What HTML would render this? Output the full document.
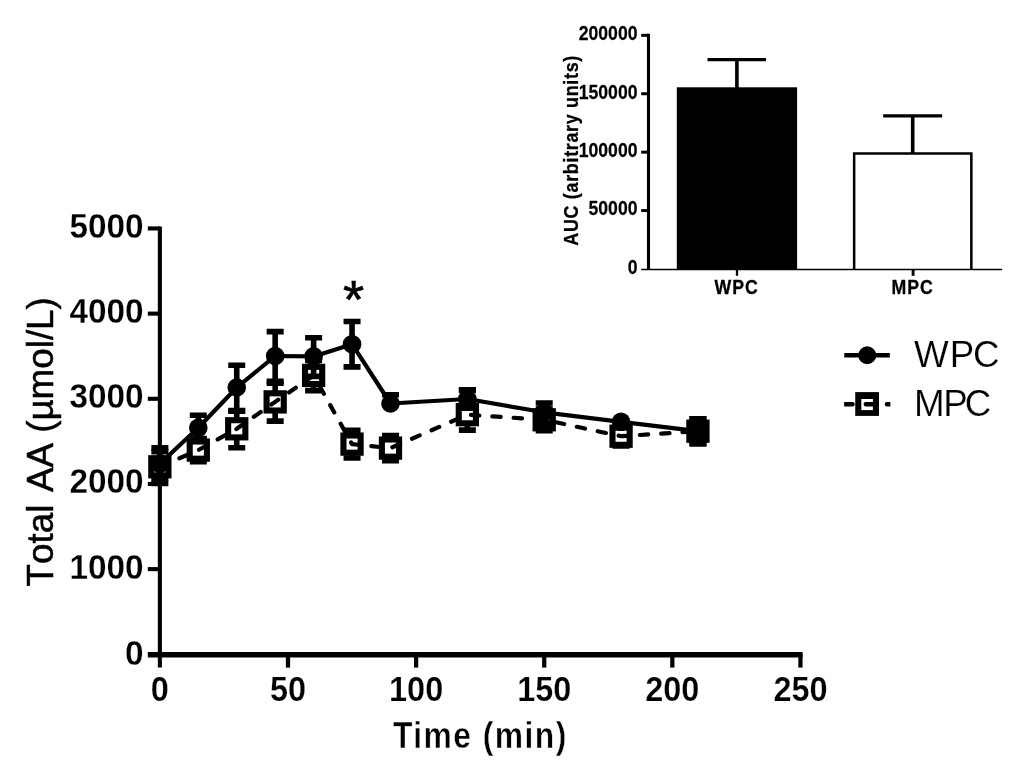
<!DOCTYPE html>
<html lang="en"><head><meta charset="utf-8"><title>Total AA over time: WPC vs MPC</title>
<style>html,body{margin:0;padding:0;background:#fff}body{width:1024px;height:770px;overflow:hidden}svg{display:block}text{font-family:"Liberation Sans",Arial,Helvetica,sans-serif;fill:#000}.b{font-weight:bold}</style></head><body>
<svg width="1024" height="770" viewBox="0 0 1024 770">
<rect width="1024" height="770" fill="#fff"/>
<g id="mpc">
<path d="M159.87 451.60V483.40M151.37 451.60H168.37M151.37 483.40H168.37" stroke="#000" stroke-width="5.60" fill="none"/>
<path d="M198.30 438.45V461.75M189.80 438.45H206.80M189.80 461.75H206.80" stroke="#000" stroke-width="5.60" fill="none"/>
<path d="M236.74 411.20V447.80M228.24 411.20H245.24M228.24 447.80H245.24" stroke="#000" stroke-width="5.60" fill="none"/>
<path d="M275.17 383.30V421.10M266.67 383.30H283.67M266.67 421.10H283.67" stroke="#000" stroke-width="5.60" fill="none"/>
<path d="M313.61 360.40V390.60M305.11 360.40H322.11M305.11 390.60H322.11" stroke="#000" stroke-width="5.60" fill="none"/>
<path d="M352.04 430.25V457.95M343.54 430.25H360.54M343.54 457.95H360.54" stroke="#000" stroke-width="5.60" fill="none"/>
<path d="M390.48 435.55V460.65M381.98 435.55H398.98M381.98 460.65H398.98" stroke="#000" stroke-width="5.60" fill="none"/>
<path d="M467.35 399.30V430.10M458.85 399.30H475.85M458.85 430.10H475.85" stroke="#000" stroke-width="5.60" fill="none"/>
<path d="M544.22 409.00V430.60M535.72 409.00H552.72M535.72 430.60H552.72" stroke="#000" stroke-width="5.60" fill="none"/>
<path d="M621.08 426.50V445.90M612.58 426.50H629.58M612.58 445.90H629.58" stroke="#000" stroke-width="5.60" fill="none"/>
<path d="M697.95 418.70V443.70M689.45 418.70H706.45M689.45 443.70H706.45" stroke="#000" stroke-width="5.60" fill="none"/>
<rect x="151.27" y="458.20" width="17.20" height="17.20" fill="#fff" stroke="#000" stroke-width="6.10"/>
<rect x="189.70" y="441.50" width="17.20" height="17.20" fill="#fff" stroke="#000" stroke-width="6.10"/>
<rect x="228.14" y="420.20" width="17.20" height="17.20" fill="#fff" stroke="#000" stroke-width="6.10"/>
<rect x="266.57" y="393.30" width="17.20" height="17.20" fill="#fff" stroke="#000" stroke-width="6.10"/>
<rect x="305.01" y="366.80" width="17.20" height="17.20" fill="#fff" stroke="#000" stroke-width="6.10"/>
<rect x="343.44" y="435.50" width="17.20" height="17.20" fill="#fff" stroke="#000" stroke-width="6.10"/>
<rect x="381.88" y="439.50" width="17.20" height="17.20" fill="#fff" stroke="#000" stroke-width="6.10"/>
<rect x="458.75" y="406.10" width="17.20" height="17.20" fill="#fff" stroke="#000" stroke-width="6.10"/>
<rect x="535.62" y="411.20" width="17.20" height="17.20" fill="#fff" stroke="#000" stroke-width="6.10"/>
<rect x="612.48" y="427.60" width="17.20" height="17.20" fill="#fff" stroke="#000" stroke-width="6.10"/>
<rect x="689.35" y="422.60" width="17.20" height="17.20" fill="#fff" stroke="#000" stroke-width="6.10"/>
<polyline points="159.87,466.80 198.30,450.10 236.74,428.80 275.17,401.90 313.61,375.40 352.04,444.10 390.48,448.10 467.35,414.70 544.22,419.80 621.08,436.20 697.95,431.20" fill="none" stroke="#000" stroke-width="4.20" stroke-linecap="round" stroke-linejoin="round" stroke-dasharray="8.35 13.0"/>
</g>
<g id="wpc">
<path d="M159.87 447.90V478.80M151.37 447.90H168.37M151.37 478.80H168.37" stroke="#000" stroke-width="5.60" fill="none"/>
<path d="M198.30 415.20V440.40M189.80 415.20H206.80M189.80 440.40H206.80" stroke="#000" stroke-width="5.60" fill="none"/>
<path d="M236.74 365.20V410.50M228.24 365.20H245.24M228.24 410.50H245.24" stroke="#000" stroke-width="5.60" fill="none"/>
<path d="M275.17 331.60V381.20M266.67 331.60H283.67M266.67 381.20H283.67" stroke="#000" stroke-width="5.60" fill="none"/>
<path d="M313.61 337.70V376.40M305.11 337.70H322.11M305.11 376.40H322.11" stroke="#000" stroke-width="5.60" fill="none"/>
<path d="M352.04 321.50V366.90M343.54 321.50H360.54M343.54 366.90H360.54" stroke="#000" stroke-width="5.60" fill="none"/>
<path d="M390.48 394.70V403.50M381.98 394.70H398.98" stroke="#000" stroke-width="5.60" fill="none"/>
<path d="M467.35 389.70V408.30M458.85 389.70H475.85M458.85 408.30H475.85" stroke="#000" stroke-width="5.60" fill="none"/>
<path d="M544.22 403.00V423.10M535.72 403.00H552.72M535.72 423.10H552.72" stroke="#000" stroke-width="5.60" fill="none"/>
<path d="M697.95 418.70V443.70M689.45 418.70H706.45M689.45 443.70H706.45" stroke="#000" stroke-width="5.60" fill="none"/>
<path d="M458.85 390.6H475.85" stroke="#000" stroke-width="5.60"/>
<polyline points="159.87,463.80 198.30,427.80 236.74,387.50 275.17,356.00 313.61,356.40 352.04,344.20 390.48,403.50 467.35,399.00 544.22,412.30 621.08,421.80 697.95,431.20" fill="none" stroke="#000" stroke-width="4.20" stroke-linejoin="round"/>
<circle cx="159.87" cy="463.80" r="9.30" fill="#000"/>
<circle cx="198.30" cy="427.80" r="9.30" fill="#000"/>
<circle cx="236.74" cy="387.50" r="9.30" fill="#000"/>
<circle cx="275.17" cy="356.00" r="9.30" fill="#000"/>
<circle cx="313.61" cy="356.40" r="9.30" fill="#000"/>
<circle cx="352.04" cy="344.20" r="9.30" fill="#000"/>
<circle cx="390.48" cy="403.50" r="9.30" fill="#000"/>
<circle cx="467.35" cy="399.00" r="9.30" fill="#000"/>
<circle cx="544.22" cy="412.30" r="9.30" fill="#000"/>
<circle cx="621.08" cy="421.80" r="9.30" fill="#000"/>
<circle cx="697.95" cy="431.20" r="9.30" fill="#000"/>
</g>
<g id="axes" stroke="#000" fill="none">
<path d="M159.87 226.38V667.60" stroke-width="4.1"/>
<path d="M147.8 654.83H802.6" stroke-width="5.46"/>
<path d="M147.8 569.13H159.87" stroke-width="4.1"/>
<path d="M147.8 483.96H159.87" stroke-width="4.1"/>
<path d="M147.8 398.79H159.87" stroke-width="4.1"/>
<path d="M147.8 313.62H159.87" stroke-width="4.1"/>
<path d="M147.8 228.45H159.87" stroke-width="4.1"/>
<path d="M287.99 654V667.6" stroke-width="4.25"/>
<path d="M416.10 654V667.6" stroke-width="4.25"/>
<path d="M544.22 654V667.6" stroke-width="4.25"/>
<path d="M672.33 654V667.6" stroke-width="4.25"/>
<path d="M800.45 654V667.6" stroke-width="4.25"/>
</g>
<g class="b" font-size="34.6" stroke="#fff" stroke-width="0.25">
<text transform="translate(143.5 664.50) scale(0.962 1)" text-anchor="end">0</text>
<text transform="translate(143.5 578.63) scale(0.962 1)" text-anchor="end">1000</text>
<text transform="translate(143.5 493.46) scale(0.962 1)" text-anchor="end">2000</text>
<text transform="translate(143.5 408.29) scale(0.962 1)" text-anchor="end">3000</text>
<text transform="translate(143.5 323.12) scale(0.962 1)" text-anchor="end">4000</text>
<text transform="translate(143.5 237.95) scale(0.962 1)" text-anchor="end">5000</text>
<text transform="translate(159.87 701.4) scale(0.938 1)" text-anchor="middle">0</text>
<text transform="translate(287.99 701.4) scale(0.938 1)" text-anchor="middle">50</text>
<text transform="translate(416.10 701.4) scale(0.938 1)" text-anchor="middle">100</text>
<text transform="translate(544.22 701.4) scale(0.938 1)" text-anchor="middle">150</text>
<text transform="translate(672.33 701.4) scale(0.938 1)" text-anchor="middle">200</text>
<text transform="translate(800.45 701.4) scale(0.938 1)" text-anchor="middle">250</text>
</g>
<text class="b" font-size="36.4" letter-spacing="1.65" transform="translate(480.3 747.9) scale(0.875 1)" text-anchor="middle" stroke="#fff" stroke-width="0.45">Time (min)</text>
<text font-size="36.8" style="font-kerning:none" transform="translate(53.2 586.4) rotate(-90)" stroke="#000" stroke-width="0.5">Total <tspan dx="2.4">AA</tspan> <tspan dx="-0.2">(µmol/L)</tspan></text>
<text font-size="54.5" x="353.6" y="318.2" text-anchor="middle" stroke="#000" stroke-width="0.6">*</text>
<g id="legend">
<path d="M844.3 355.3H889.8" stroke="#000" stroke-width="4.4"/>
<circle cx="867.2" cy="355.25" r="9.0" fill="#000"/>
<rect x="855.25" y="392.1" width="23.75" height="23.8" fill="#000"/>
<rect x="861.3" y="399.0" width="11.6" height="11.1" fill="#fff"/>
<path d="M844.1 404.3H852.5M865.8 404.3H874M887.0 404.3H890.3" stroke="#000" stroke-width="4.5" stroke-linecap="round"/>
<rect x="839" y="400" width="5.1" height="9" fill="#fff"/>
<rect x="890.4" y="400" width="4" height="9" fill="#fff"/>
<text font-size="36.75" x="914.1" y="366.6" stroke="#fff" stroke-width="0.2">W<tspan dx="0.9">P</tspan><tspan dx="-1.3">C</tspan></text>
<text font-size="36.75" x="914.1" y="415.8" stroke="#fff" stroke-width="0.2">M<tspan dx="-1.5">P</tspan><tspan dx="-3">C</tspan></text>
</g>
<g id="inset">
<rect x="676.8" y="87.3" width="120.3" height="182.50" fill="#000"/>
<path d="M854.15 270V153.55H971.35V270" fill="#fff" stroke="#000" stroke-width="2.5"/>
<path d="M736.9 88V59.6M912.7 153V115.9" stroke="#000" stroke-width="3.6" fill="none"/>
<path d="M707.5 59.6H766M883.2 115.9H942.2" stroke="#000" stroke-width="3.2" fill="none"/>
<path d="M648.50 33.80V270.1" stroke="#000" stroke-width="3.1"/>
<path d="M641.25 269.5H1002.1" stroke="#000" stroke-width="1.7"/>
<path d="M641.2 210.58H648.50" stroke="#000" stroke-width="3"/>
<path d="M641.2 152.16H648.50" stroke="#000" stroke-width="3"/>
<path d="M641.2 93.74H648.50" stroke="#000" stroke-width="3"/>
<path d="M641.2 35.32H648.50" stroke="#000" stroke-width="3"/>
<path d="M737.0 269V275.8" stroke="#000" stroke-width="2.3"/>
<path d="M913.1 269V275.8" stroke="#000" stroke-width="2.9"/>
<g class="b" font-size="19.7">
<text font-size="21" transform="translate(637.5 273.90) scale(0.84 1)" text-anchor="end" stroke="#000" stroke-width="0.25">0</text>
<text font-size="21" transform="translate(637.5 215.28) scale(0.84 1)" text-anchor="end" stroke="#000" stroke-width="0.25">50000</text>
<text font-size="21" transform="translate(637.5 157.46) scale(0.84 1)" text-anchor="end" stroke="#000" stroke-width="0.25">100000</text>
<text font-size="21" transform="translate(637.5 98.84) scale(0.84 1)" text-anchor="end" stroke="#000" stroke-width="0.25">150000</text>
<text font-size="21" transform="translate(637.5 39.92) scale(0.84 1)" text-anchor="end" stroke="#000" stroke-width="0.25">200000</text>
<text transform="translate(736.6 294.2) scale(0.9 1)" text-anchor="middle" letter-spacing="1" stroke="#000" stroke-width="0.3">WPC</text>
<text transform="translate(912.6 294.2) scale(0.9 1)" text-anchor="middle" letter-spacing="1" stroke="#000" stroke-width="0.3">MPC</text>
<text transform="translate(578.1 150.7) rotate(-90) scale(0.91 1)" text-anchor="middle" textLength="208.8" lengthAdjust="spacing" stroke="#000" stroke-width="0.3">AUC (arbitrary units)</text>
</g></g>
</svg></body></html>
